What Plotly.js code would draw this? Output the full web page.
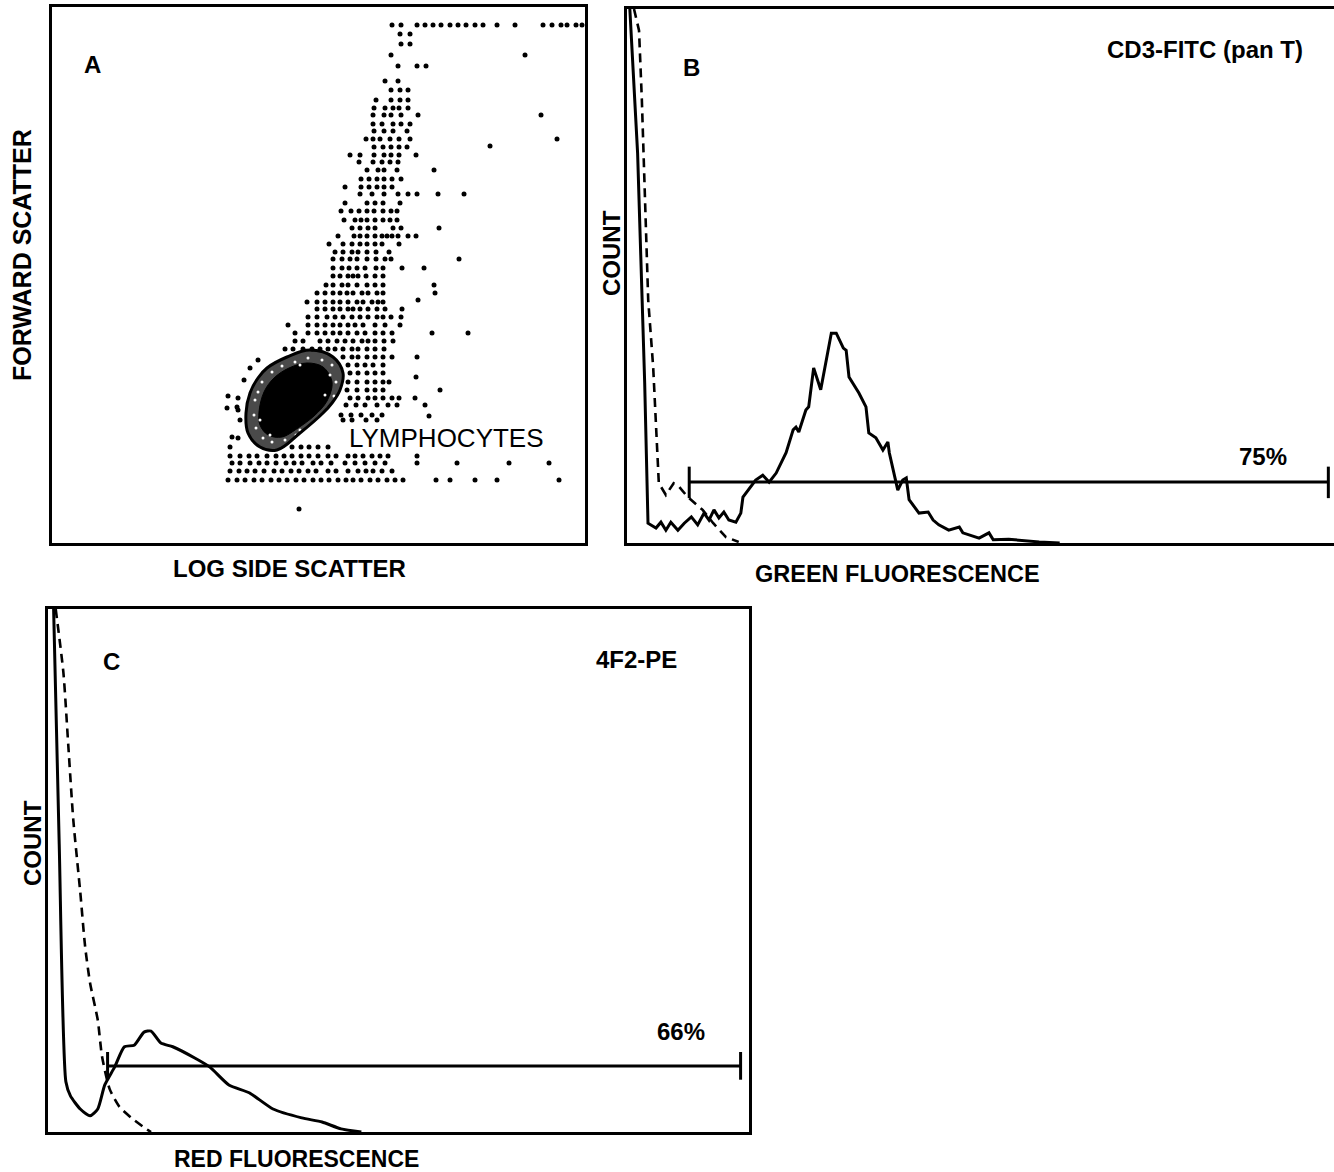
<!DOCTYPE html>
<html>
<head>
<meta charset="utf-8">
<script src="https://cdn.plot.ly/plotly-3.0.1.min.js"></script>
<style>html,body{margin:0;padding:0;background:#fff;}#chart{width:1334px;height:1172px;}</style>
</head>
<body>
<div id="chart"></div>
<script>
// ---------- Panel A: forward scatter vs log side scatter (channel units) ----------
const eventsX = [
 680,698,730,746,762,778,796,812,828,846,862,890,926,982,1000,1018,1030,1048,1060,
 696,716, 698,716, 678,946, 692,730,748, 666,692, 678,696,712, 648,678,696,712,
 644,666,682,694,712, 642,664,678,698,732,978, 642,660,682,698,716, 644,664,682,710,
 628,642,656,676,694,716,1010, 876, 644,662,678,694,710, 596,616,644,664,678,694,728,
 614,642,660,676,692, 630,652,664,690,764, 618,634,650,664,680,698, 586,618,634,650,664,680,
 616,640,664,692,712,730,772,824, 586,630,646,662,696, 578,598,614,630,644,662,678,690,
 584,606,618,630,646,662,676,690, 600,616,632,646,682,698,774,
 572,604,616,630,646,660,670,680,692,712,728, 554,582,600,616,630,646,660,694,
 566,582,600,612,630,648,674, 562,580,596,610,630,648,666,678,814,
 562,580,594,610,626,648,662,700,744, 562,576,592,602,612,628,646,662,
 548,562,580,592,610,630,646,662,764, 530,546,562,576,590,602,620,632,650,662,766, 732,
 510,530,546,562,576,592,610,622,640,652,662, 530,546,562,576,592,602,616,632,650,666,700,
 512,530,550,566,582,600,616,632,650,662,678,698, 472,512,530,546,562,576,592,606,622,646,666,696,
 486,512,530,546,562,576,592,610,626,646,662,680,760,832, 486,502,536,552,570,586,602,620,632,646,664,682,
 466,482,502,520,536,552,566,582,600,612,630,646,664, 582,600,612,630,646,662,680,730,
 592,610,626,642,662, 596,612,630,646,662, 728, 592,610,630,646,662,674, 590,610,630,646,662,776,
 596,612,632,646,662,680,694,726, 588,608,626,650,672,690,746, 370, 578,598,618,640,660, 582,600,628,650, 754,
 352,372,350,372,376,360,372,356, 396,412,384,
 480,498,514,532,552,
 356,376,394,410,430,448,464,480,498,514,532,552,568,592,606,622,640,656,672,730,
 360,376,396,414,430,448,468,484,500,522,538,558,586,606,626,646,666,730,810,914,994,
 356,374,390,406,424,444,460,478,494,512,528,552,568,592,612,628,642,660,680,
 352,370,386,404,420,438,454,470,488,504,522,538,554,572,588,602,618,636,652,670,686,702,768,796,846,890,1014,
 494
];
const eventsY = [
 1036,1036,1036,1036,1036,1036,1036,1036,1036,1036,1036,1036,1036,1036,1036,1036,1036,1036,1036,
 1018,1018, 998,998, 976,976, 954,954,954, 924,924, 906,906,906, 886,886,886,886,
 870,870,870,870,870, 856,856,856,856,856,856, 838,838,838,838,838, 824,824,824,824,
 808,808,808,808,808,808,808, 794, 792,792,792,792,792, 776,776,776,776,776,776,776,
 762,762,762,762,762, 746,746,746,746,746, 728,728,728,728,728,728, 712,712,712,712,712,712,
 698,698,698,698,698,698,698,698, 680,680,680,680,680, 664,664,664,664,664,664,664,664,
 646,646,646,646,646,646,646,646, 630,630,630,630,630,630,630,
 614,614,614,614,614,614,614,614,614,614,614, 598,598,598,598,598,598,598,598,
 582,582,582,582,582,582,582, 568,568,568,568,568,568,568,568,568,
 550,550,550,550,550,550,550,550,550, 534,534,534,534,534,534,534,534,
 516,516,516,516,516,516,516,516,516, 500,500,500,500,500,500,500,500,500,500,500, 486,
 482,482,482,482,482,482,482,482,482,482,482, 468,468,468,468,468,468,468,468,468,468,468,
 452,452,452,452,452,452,452,452,452,452,452,452, 436,436,436,436,436,436,436,436,436,436,436,436,
 420,420,420,420,420,420,420,420,420,420,420,420,420,420, 404,404,404,404,404,404,404,404,404,404,404,404,
 388,388,388,388,388,388,388,388,388,388,388,388,388, 372,372,372,372,372,372,372,372,
 356,356,356,356,356, 340,340,340,340,340, 332, 322,322,322,322,322,322, 306,306,306,306,306,306,
 290,290,290,290,290,290,290,290, 276,276,276,276,276,276,276, 272, 256,256,256,256,256, 246,246,246,246, 254,
 294,290,270,266,246,212,210,192, 350,366,326,
 192,192,192,192,192,
 174,174,174,174,174,174,174,174,174,174,174,174,174,174,174,174,174,174,174,174,
 160,160,160,160,160,160,160,160,160,160,160,160,160,160,160,160,160,160,160,160,160,
 144,144,144,144,144,144,144,144,144,144,144,144,144,144,144,144,144,144,144,
 126,126,126,126,126,126,126,126,126,126,126,126,126,126,126,126,126,126,126,126,126,126,126,126,126,126,126,
 68
];
// speckled events inside the gate, around the dense core
const ringX = [406,404,408,422,440,466,488,512,532,552,564,568,560,540,512,486,460,440,420,412,416,436,496,546,556,496];
const ringY = [286,256,230,210,202,206,216,232,250,270,294,322,356,366,370,362,354,342,322,302,246,216,226,296,336,356];
// lymphocyte gate outline and its dense core
const gateX = [388,396,412,430,470,516,562,582,576,560,542,496,450,416,392,388];
const gateY = [260,300,330,350,372,386,372,340,306,280,260,220,186,192,220,260];
const coreX = [414,424,444,474,510,542,560,550,524,492,460,432,416,414];
const coreY = [262,302,330,350,360,352,322,284,254,230,212,216,236,262];

// ---------- Panel B: green fluorescence histogram (CD3-FITC) ----------
const greenX = [0.4,1.5,2.5,2.97,4.1,4.8,5.5,6.2,7.2,8.1,9.1,10.0,10.9,11.6,12.3,13.0,13.7,14.4,15.4,16.1,16.4,17.5,18.2,19.2,20.1,21.1,22.5,23.5,23.9,24.3,25.3,25.7,26.4,27.4,28.9,29.6,30.6,31.0,31.4,32.8,33.8,34.2,35.2,36.2,36.9,37.1,38.0,38.3,39.0,39.5,39.9,41.3,42.6,43.3,44.1,45.5,47.0,47.5,49.8,51.2,51.8,54.0,58.3,61.2];
const greenY = [100,73,30,3.7,2.8,3.9,2.4,3.9,2.4,3.7,4.9,3.4,5.6,4.3,6.2,4.7,5.8,4.3,3.9,5.6,8.6,10.5,11.8,12.7,11.4,13.1,16.9,21.2,21.7,20.8,24.9,25.5,32.8,28.7,39.3,39.3,36.5,36.1,31.1,28.1,25.5,20.6,19.7,17.4,18.9,16.9,11.8,9.9,11.8,12.2,8.1,5.6,5.8,4.3,3.4,2.4,3.0,1.9,0.9,1.9,0.6,0.7,0.2,0];
const greenCtrlX = [0.99,1.7,2.1,2.4,2.7,3.0,3.7,4.1,4.5,5.5,6.6,7.4,8.6,10.7,12.2,14.0,15.8];
const greenCtrlY = [100,96,83,70,57,45.5,33,20.6,11.2,9.0,11.2,10.5,8.6,6.2,3.7,1.1,0.2];
const gateBX = [8.8, 99.2];   // marker bar start / end
const gateBY = 11.4;          // bar level
const gateBTick = [8.4, 14.3];

// ---------- Panel C: red fluorescence histogram (4F2-PE) ----------
const redX = [0.8,1.6,2.55,3.2,4.6,6.0,7.1,8.1,9.5,10.9,12.3,13.7,14.7,16.1,17.8,21.0,23.1,25.8,28.7,32.1,36.2,39.1,41.8,44.7];
const redY = [100,55,9.6,6.9,4.4,3.1,4.4,9.0,12.4,16.3,16.6,19.1,19.3,17.0,16.3,14.1,12.4,9.0,7.5,4.4,2.7,1.9,0.6,0];
const redCtrlX = [1.1,2.2,2.9,3.6,4.6,5.3,6.0,7.1,7.7,8.8,10.2,11.9,14.0,14.7];
const redCtrlY = [100,87.8,73.8,59.8,45.9,35.4,28.5,21.4,14.5,8.2,4.8,2.7,0.6,0];
const gateCX = [8.5, 98.8];
const gateCY = 12.6;
const gateCTick = [10.0, 15.3];

// ---------- labels ----------
const labels = {
  a: 'A', b: 'B', c: 'C',
  lymph: 'LYMPHOCYTES',
  xA: 'LOG SIDE SCATTER', yA: 'FORWARD SCATTER',
  xB: 'GREEN FLUORESCENCE', yB: 'COUNT', tagB: 'CD3-FITC (pan T)', pctB: '75%',
  xC: 'RED FLUORESCENCE', yC: 'COUNT', tagC: '4F2-PE', pctC: '66%'
};

// ---------- build ----------
const W = 1334, H = 1172;
const K = '#000';
function gateTraces(gx, gy, tick, xa, ya) {
  return [
    {x: gx, y: [gy, gy], xaxis: xa, yaxis: ya, mode: 'lines', line: {color: K, width: 3}, hoverinfo: 'skip'},
    {x: [gx[0], gx[0]], y: tick, xaxis: xa, yaxis: ya, mode: 'lines', line: {color: K, width: 3}, hoverinfo: 'skip'},
    {x: [gx[1], gx[1]], y: tick, xaxis: xa, yaxis: ya, mode: 'lines', line: {color: K, width: 3}, hoverinfo: 'skip'}
  ];
}
const traces = [
  {x: gateX, y: gateY, xaxis: 'x', yaxis: 'y', mode: 'lines', fill: 'toself', fillcolor: '#4a4a4a',
   line: {color: '#4a4a4a', width: 0, shape: 'spline', smoothing: 1.1}, hoverinfo: 'skip'},
  {x: coreX, y: coreY, xaxis: 'x', yaxis: 'y', mode: 'lines', fill: 'toself', fillcolor: K,
   line: {color: K, width: 1, shape: 'spline', smoothing: 1}, hoverinfo: 'skip'},
  {x: ringX, y: ringY, xaxis: 'x', yaxis: 'y', mode: 'markers',
   marker: {color: '#fff', size: 3, line: {width: 0}}, hoverinfo: 'skip'},
  {x: eventsX, y: eventsY, xaxis: 'x', yaxis: 'y', mode: 'markers',
   marker: {color: K, size: 5, line: {width: 0}}, hoverinfo: 'skip'},
  {x: gateX, y: gateY, xaxis: 'x', yaxis: 'y', mode: 'lines',
   line: {color: K, width: 3, shape: 'spline', smoothing: 1.1}, hoverinfo: 'skip'},

  {x: greenCtrlX, y: greenCtrlY, xaxis: 'x2', yaxis: 'y2', mode: 'lines',
   line: {color: K, width: 2.6, dash: '9px,6px'}, hoverinfo: 'skip'},
  {x: greenX, y: greenY, xaxis: 'x2', yaxis: 'y2', mode: 'lines',
   line: {color: K, width: 3}, hoverinfo: 'skip'},
  ...gateTraces(gateBX, gateBY, gateBTick, 'x2', 'y2'),

  {x: redCtrlX, y: redCtrlY, xaxis: 'x3', yaxis: 'y3', mode: 'lines',
   line: {color: K, width: 2.6, dash: '9px,6px', shape: 'spline', smoothing: 0.6}, hoverinfo: 'skip'},
  {x: redX, y: redY, xaxis: 'x3', yaxis: 'y3', mode: 'lines',
   line: {color: K, width: 3, shape: 'spline', smoothing: 0.6}, hoverinfo: 'skip'},
  ...gateTraces(gateCX, gateCY, gateCTick, 'x3', 'y3')
];

const ax = {showline: true, mirror: true, linecolor: K, linewidth: 3, showgrid: false, zeroline: false,
            showticklabels: false, ticks: '', fixedrange: true};
const dx = (a, b) => [a / W, b / W];
const dy = (top, bottom) => [1 - bottom / H, 1 - top / H];

function ann(text, px, py, size, bold, angle) {
  return {text: bold ? '<b>' + text + '</b>' : text, xref: 'paper', yref: 'paper',
          x: px / W, y: 1 - py / H, xanchor: 'center', yanchor: 'middle', showarrow: false,
          textangle: angle || 0, font: {size: size, color: K, family: 'Liberation Sans, Arial, sans-serif'}};
}

const layout = {
  width: W, height: H, margin: {l: 0, r: 0, t: 0, b: 0, pad: 0},
  paper_bgcolor: '#fff', plot_bgcolor: '#fff', showlegend: false,
  font: {family: 'Liberation Sans, Arial, sans-serif', color: K},
  xaxis:  Object.assign({}, ax, {domain: dx(52, 585),  range: [0, 1066], anchor: 'y'}),
  yaxis:  Object.assign({}, ax, {domain: dy(7, 543),   range: [0, 1072], anchor: 'x'}),
  xaxis2: Object.assign({}, ax, {domain: dx(627, 1334), range: [0, 100], anchor: 'y2'}),
  yaxis2: Object.assign({}, ax, {domain: dy(9, 543),   range: [0, 100], anchor: 'x2'}),
  xaxis3: Object.assign({}, ax, {domain: dx(48, 749),  range: [0, 100], anchor: 'y3'}),
  yaxis3: Object.assign({}, ax, {domain: dy(609, 1132), range: [0, 100], anchor: 'x3'}),
  annotations: [
    ann(labels.a, 92, 64, 24, true),
    ann(labels.lymph, 446, 438, 26, false),
    ann(labels.xA, 289, 569, 24, true),
    ann(labels.yA, 22, 255, 25, true, -90),
    ann(labels.b, 691, 68, 24, true),
    ann(labels.tagB, 1205, 49, 24, true),
    ann(labels.pctB, 1263, 456, 24, true),
    ann(labels.xB, 897, 574, 23.5, true),
    ann(labels.yB, 612, 253, 24, true, -90),
    ann(labels.c, 111, 661, 24, true),
    ann(labels.tagC, 636, 659, 24, true),
    ann(labels.pctC, 681, 1031, 24, true),
    ann(labels.xC, 296, 1159, 23, true),
    ann(labels.yC, 32, 843, 24, true, -90)
  ]
};

Plotly.newPlot('chart', traces, layout, {staticPlot: true, displayModeBar: false});
</script>
</body>
</html>
